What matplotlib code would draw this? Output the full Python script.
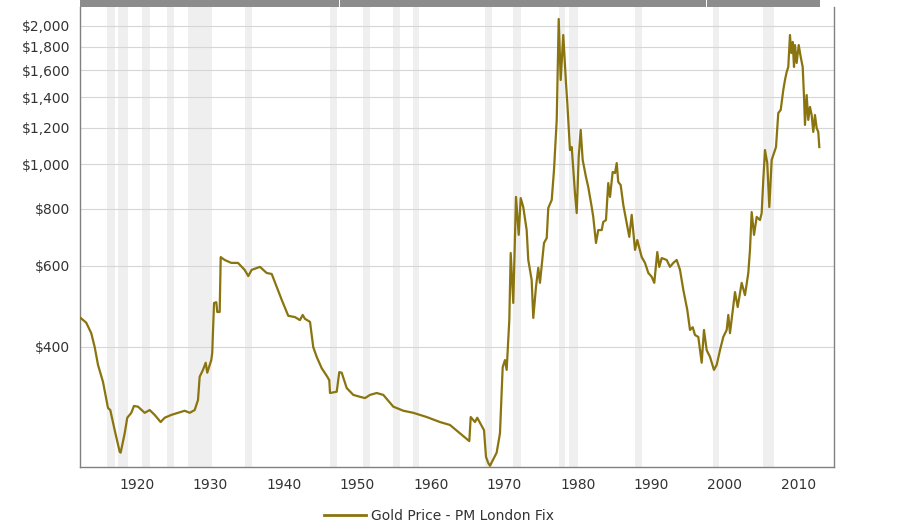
import matplotlib
matplotlib.use("Agg")
import matplotlib.pyplot as plt
from matplotlib.patches import Rectangle
from matplotlib.lines import Line2D
from matplotlib.ticker import FixedLocator, NullLocator, FuncFormatter

# inflation adjusted gold price (year as placed on the axis)
years = [1912.38, 1913.14, 1913.82, 1914.29, 1914.74, 1915.42, 1916.10, 1916.41, 1917.01,
         1917.69, 1917.82, 1918.37, 1918.72, 1919.27, 1919.63, 1920.18, 1921.09, 1921.77,
         1922.45, 1923.26, 1923.81, 1924.71, 1925.62, 1926.53, 1927.21, 1927.89, 1928.34,
         1928.57, 1929.02, 1929.39, 1929.60, 1930.15, 1930.28, 1930.52, 1930.83, 1930.96,
         1931.29, 1931.43, 1931.97, 1932.87, 1933.78, 1934.69, 1935.18, 1935.64, 1936.77,
         1937.68, 1938.37, 1939.05, 1939.73, 1940.62, 1941.53, 1942.21, 1942.58, 1942.89,
         1943.58, 1944.02, 1944.49, 1945.17, 1945.93, 1946.20, 1946.30, 1947.21, 1947.56,
         1947.89, 1948.57, 1949.47, 1950.38, 1951.06, 1951.74, 1952.65, 1953.55, 1954.91,
         1956.27, 1957.63, 1959.45, 1961.26, 1962.62, 1963.98, 1965.25, 1965.44, 1966.02,
         1966.33, 1966.70, 1967.25, 1967.52, 1967.83, 1968.06, 1968.97, 1969.42, 1969.79,
         1970.10, 1970.33, 1970.69, 1970.88, 1971.23, 1971.60, 1971.97, 1972.24, 1972.59,
         1973.05, 1973.27, 1973.73, 1973.95, 1974.32, 1974.63, 1974.86, 1975.41, 1975.78,
         1975.99, 1976.46, 1976.77, 1977.14, 1977.41, 1977.68, 1978.03, 1978.40, 1978.58,
         1978.94, 1979.18, 1979.62, 1979.86, 1980.13, 1980.40, 1980.67, 1981.12, 1981.43,
         1981.90, 1982.11, 1982.48, 1982.79, 1983.26, 1983.47, 1983.84, 1984.15, 1984.39,
         1984.75, 1985.07, 1985.30, 1985.51, 1985.84, 1986.20, 1986.66, 1987.01, 1987.34,
         1987.79, 1988.10, 1988.70, 1989.15, 1989.60, 1990.06, 1990.41, 1990.82, 1991.09,
         1991.42, 1992.10, 1992.55, 1993.00, 1993.46, 1993.91, 1994.36, 1994.90, 1995.27,
         1995.64, 1995.95, 1996.40, 1996.86, 1997.17, 1997.54, 1997.99, 1998.53, 1998.90,
         1999.35, 1999.80, 2000.26, 2000.48, 2000.71, 2001.39, 2001.76, 2002.30, 2002.75,
         2003.20, 2003.43, 2003.66, 2003.98, 2004.34, 2004.79, 2005.02, 2005.24, 2005.47,
         2005.78, 2006.06, 2006.38, 2006.70, 2006.97, 2007.14, 2007.28, 2007.61, 2007.96,
         2008.19, 2008.42, 2008.64, 2008.87, 2009.05, 2009.24, 2009.42, 2009.55, 2009.78,
         2010.06, 2010.33, 2010.60, 2010.78, 2010.91, 2011.14, 2011.36, 2011.59, 2011.82,
         2012.04, 2012.27, 2012.50, 2012.72, 2012.86]
prices = [462, 451, 428, 399, 365, 335, 294, 291, 263,
          236, 235, 259, 280, 287, 297, 296, 287, 291,
          284, 274, 280, 284, 287, 290, 287, 291, 306,
          344, 356, 369, 351, 374, 388, 498, 500, 476,
          476, 627, 618, 609, 609, 588, 570, 588, 597,
          579, 576, 540, 506, 467, 464, 457, 469, 460,
          453, 399, 380, 359, 344, 338, 317, 319, 352,
          351, 325, 314, 311, 309, 314, 317, 314, 296,
          290, 287, 281, 274, 270, 259, 249, 281, 274,
          280, 273, 263, 230, 223, 220, 235, 259, 361,
          374, 356, 457, 640, 498, 848, 701, 843, 806,
          718, 618, 559, 462, 540, 594, 551, 673, 690,
          802, 835, 971, 1248, 2071, 1525, 1911, 1502, 1359,
          1073, 1089, 865, 782, 1036, 1187, 1021, 937, 891,
          806, 767, 673, 718, 718, 748, 755, 909, 848,
          961, 956, 1005, 914, 900, 814, 744, 694, 775,
          650, 683, 627, 609, 579, 568, 551, 643, 597,
          624, 618, 597, 609, 618, 588, 532, 481, 435,
          441, 424, 420, 369, 435, 393, 380, 356, 365,
          393, 420, 435, 469, 428, 526, 488, 551, 518,
          579, 650, 786, 701, 767, 755, 782, 923, 1073,
          1005, 806, 1021, 1057, 1089, 1198, 1292, 1312, 1450,
          1525, 1587, 1628, 1911, 1746, 1845, 1628, 1817, 1661,
          1817, 1712, 1628, 1400, 1217, 1414, 1248, 1332, 1279,
          1175, 1279, 1198, 1175, 1089]

# shaded recession periods (as they sit on the axis)
band_start = [1915.9, 1917.5, 1920.7, 1924.1, 1927.0, 1934.7, 1946.3, 1950.8, 1954.9,
              1957.6, 1967.4, 1971.2, 1977.5, 1978.85, 1987.8, 1998.45, 2005.25]
band_end = [1917.05, 1918.85, 1921.8, 1925.05, 1930.2, 1935.7, 1947.3, 1951.75, 1955.8,
            1958.4, 1968.3, 1972.25, 1978.25, 1980.05, 1988.7, 1999.2, 2006.7]

ytick_values = [400, 600, 800, 1000, 1200, 1400, 1600, 1800, 2000]
xtick_years = [1920, 1930, 1940, 1950, 1960, 1970, 1980, 1990, 2000, 2010]
series_name = "Gold Price - PM London Fix"

gold = "#8a7410"
text_col = "#333333"

fig = plt.figure(figsize=(9.09, 5.32), dpi=100)
ax = fig.add_axes([80/909, 65.3/532, 754.3/909, 459.4/532])

for s, e in zip(band_start, band_end):
    ax.axvspan(s, e, color="#efefef", lw=0, zorder=0)

ax.plot(years, prices, color=gold, lw=1.6, zorder=3)

ax.set_yscale("log")
ax.set_ylim(219, 2196)
ax.set_xlim(1912.29, 2014.9)
ax.yaxis.set_major_locator(FixedLocator(ytick_values))
ax.yaxis.set_minor_locator(NullLocator())
ax.yaxis.set_major_formatter(FuncFormatter(lambda v, p: "${:,.0f}".format(v)))
ax.set_xticks(xtick_years)
ax.set_xticklabels([str(y) for y in xtick_years])
ax.grid(axis="y", color="#d6d6d6", lw=0.8, zorder=1)
ax.set_axisbelow(True)
ax.tick_params(axis="y", length=0, pad=7, labelsize=10, labelcolor=text_col)
ax.tick_params(axis="x", length=0, pad=8, labelsize=10, labelcolor=text_col)

for side in ["left", "bottom", "right"]:
    ax.spines[side].set_color("#808080")
    ax.spines[side].set_linewidth(1)
ax.spines["top"].set_visible(False)

# navigator strip on top
fig.patches.append(Rectangle((80/909, 525/532), 740/909, 7/532, transform=fig.transFigure,
                             color="#8c8c8c", lw=0))
for xp in [339, 706]:
    fig.patches.append(Rectangle((xp/909, 525/532), 1/909, 7/532, transform=fig.transFigure,
                                 color="white", lw=0))

handle = Line2D([], [], color=gold, lw=2)
fig.legend([handle], [series_name], loc="center", bbox_to_anchor=(439/909, 1 - 516/532),
           frameon=False, handlelength=3.0, handletextpad=0.4, fontsize=10,
           labelcolor=text_col)

fig.savefig("out.png", dpi=100)
